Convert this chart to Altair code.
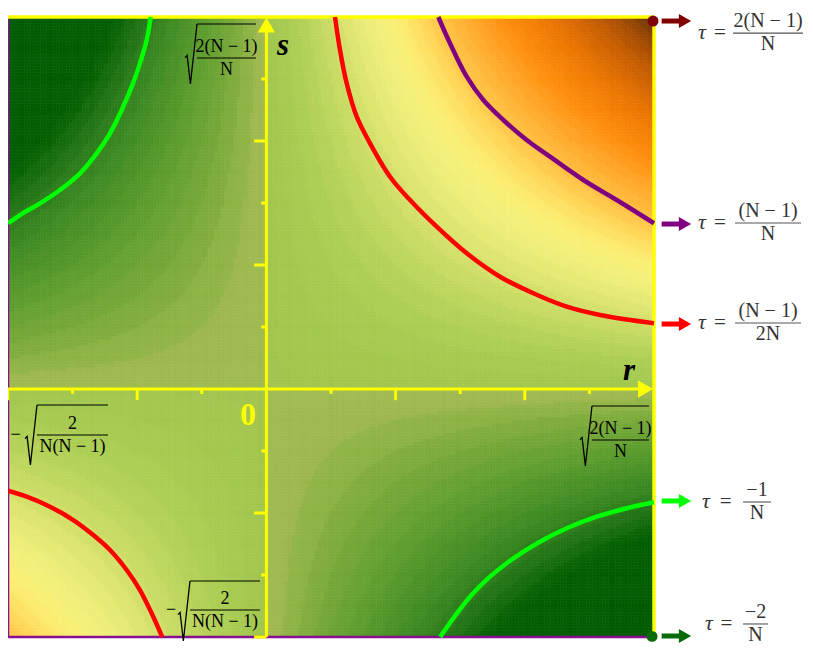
import altair as alt
import pandas as pd

# ---------------- field grid (r, s in axis-tick units) ----------------
R_MIN, R_MAX = -4, 6
S_MIN, S_MAX = -4, 6
STEP = 0.05
N_CELLS = 200          # (R_MAX - R_MIN) / STEP
BAND = 1.0             # width of one contour band (tau units)
BAND_MIX = 0.6         # how strongly the bands show

# colour stops of the contour map (tau in tick units: r*s)
TAU_STOPS = [-24, -14, -12, -10.5, -9, -7, -5, -3, -1.5, -0.5,
             0.5, 2, 4, 6, 8, 10, 12, 14, 16, 19, 22, 26, 30, 33, 36]
TAU_COLORS = ["#005a00", "#005e00", "#1c7012", "#2e7d1c", "#3c8a22", "#4e9428",
              "#62a030", "#78a83a", "#8eb444", "#a0b850",
              "#a2c84e", "#a8cc52", "#b8d45a", "#cedd66", "#e2e873", "#f2f07c",
              "#fbf074", "#ffdc5e", "#ffc446", "#ffa82a", "#ff8e0c", "#ec7600",
              "#c85e00", "#a04a00", "#5c2e00"]

# contour curves
PURPLE_R = [2.661, 2.842, 3.101, 3.358, 3.667, 4.029, 4.390, 4.906, 5.423, 6.0]
PURPLE_S = [6.0, 5.576, 5.037, 4.661, 4.339, 4.016, 3.747, 3.371, 3.048, 2.673]
RED_UP_R = [1.062, 1.139, 1.243, 1.398, 1.604, 1.913, 2.223, 2.636, 3.101, 3.616,
            4.132, 4.649, 5.164, 6.0]
RED_UP_S = [6.0, 5.468, 4.931, 4.392, 3.963, 3.424, 3.048, 2.618, 2.189, 1.811,
            1.544, 1.327, 1.194, 1.060]
RED_LO_R = [-4.0, -3.711, -3.350, -2.989, -2.680, -2.421, -2.163, -1.957, -1.776, -1.613]
RED_LO_S = [-1.640, -1.737, -1.898, -2.113, -2.355, -2.597, -2.919, -3.242, -3.618, -4.0]
GREEN_UP_R = [-4.0, -3.814, -3.505, -3.195, -2.885, -2.627, -2.421, -2.240, -2.085,
              -1.957, -1.853, -1.791]
GREEN_UP_S = [2.673, 2.806, 2.995, 3.210, 3.479, 3.801, 4.124, 4.5, 4.876, 5.253,
              5.629, 6.0]
GREEN_LO_R = [2.69, 2.893, 3.152, 3.461, 3.822, 4.235, 4.649, 5.113, 5.577, 6.0]
GREEN_LO_S = [-4.0, -3.698, -3.350, -3.027, -2.731, -2.463, -2.247, -2.060, -1.924, -1.827]
CURVE_IDS = ["purple", "red_up", "red_lo", "green_up", "green_lo"]
CURVE_COLORS = ["#800080", "#ff0000", "#ff0000", "#00ff00", "#00ff00"]

# axis ticks
TICKS_LONG = [-4, -2, 2, 4]
TICKS_SHORT = [-3, -1, 1, 3, 5]

# right-hand legend entries
TAU_NUM = ["2(N − 1)", "(N − 1)", "(N − 1)", "−1", "−2"]
TAU_DEN = ["N", "N", "2N", "N", "N"]
TAU_ARROW_COLORS = ["#800000", "#800080", "#ff0000", "#00ff00", "#0b6b0b"]
# annotation layout (data units)
ARROW_S = [5.935, 2.661, 1.048, -1.806, -3.984]
BAR_S = [5.74, 2.677, 1.065, -1.823, -3.79]
TAU_R = [6.743, 6.743, 6.743, 6.805, 6.851]
EQ_R = [7.022, 7.022, 7.022, 7.108, 7.122]
BAR_R1 = [7.223, 7.254, 7.254, 7.378, 7.378]
BAR_R2 = [8.307, 8.276, 8.276, 7.811, 7.765]

# radical tick labels
RAD_NUM = ["2(N − 1)", "2(N − 1)", "2", "2"]
RAD_DEN = ["N", "N", "N(N − 1)", "N(N − 1)"]
RAD_SIGN_R = [-1.167, 4.947, -3.644, -1.276]
RAD_SIGN_S = [5.403, -0.758, -0.742, -3.581]
RAD_OVER_S = [5.887, -0.274, -0.258, -3.097]
RAD_BAR_S = [5.339, -0.823, -0.742, -3.565]
RAD_R1 = [-1.074, 5.040, -3.551, -1.183]
RAD_R2 = [-0.161, 5.923, -2.452, -0.099]
MINUS_R = [-3.884, -1.477]
MINUS_S = [-0.742, -3.565]

XSC = alt.Scale(domain=[-4.0, 8.3375], nice=False, zero=False)
YSC = alt.Scale(domain=[-4.1774, 6.1452], nice=False, zero=False)


def X(f):
    return alt.X(f"{f}:Q", scale=XSC, axis=None)


def Y(f):
    return alt.Y(f"{f}:Q", scale=YSC, axis=None)


def segs(r, s, r2, s2, color, width):
    df = pd.DataFrame({"r": r, "s": s, "r2": r2, "s2": s2})
    return alt.Chart(df).mark_rule(color=color, strokeWidth=width).encode(
        x=X("r"), y=Y("s"), x2="r2:Q", y2="s2:Q")


def texts(r, s, t, **kw):
    df = pd.DataFrame({"r": r, "s": s, "t": t})
    return alt.Chart(df).mark_text(**kw).encode(x=X("r"), y=Y("s"), text="t:N")


YELLOW = "#ffff00"
SERIF = "Liberation Serif"

color_scale = alt.Scale(domain=TAU_STOPS, range=TAU_COLORS, interpolate="rgb")

heat = (
    alt.Chart(alt.sequence(start=0, stop=N_CELLS, as_="i"))
    .transform_calculate(j=f"sequence(0, {N_CELLS})")
    .transform_flatten(["j"])
    .transform_calculate(
        r=f"{R_MIN} + datum.i * {STEP}",
        s=f"{S_MIN} + datum.j * {STEP}",
    )
    .transform_calculate(
        r2=f"datum.r + {STEP}",
        s2=f"datum.s + {STEP}",
        tau=f"(datum.r + {STEP / 2}) * (datum.s + {STEP / 2})",
    )
    .transform_calculate(
        shade=f"{BAND_MIX} * (floor(datum.tau / {BAND}) * {BAND} + {BAND / 2})"
              f" + {1 - BAND_MIX} * datum.tau"
    )
    .mark_rect(strokeWidth=0.6)
    .encode(
        x=X("r"), x2="r2:Q", y=Y("s"), y2="s2:Q",
        color=alt.Color("shade:Q", scale=color_scale, legend=None),
        stroke=alt.Stroke("shade:Q", scale=color_scale, legend=None),
    )
)

frame_purple = segs([-4, -4], [-4, -4], [-4, 6], [6, -4], "#86108f", 2.5)
frame_yellow = segs([-4, 6], [6, -4], [6, 6], [6, 6], YELLOW, 3.5)
axes = segs([-4, 0], [0, -4], [5.87, 0], [0, 5.87], YELLOW, 3)

xt_long = segs(TICKS_LONG, [0] * 4, TICKS_LONG, [-0.18] * 4, YELLOW, 3)
xt_short = segs(TICKS_SHORT, [0] * 5, TICKS_SHORT, [-0.08] * 5, YELLOW, 3)
yt_long = segs([0] * 4, TICKS_LONG, [-0.19] * 4, TICKS_LONG, YELLOW, 3)
yt_short = segs([0] * 5, TICKS_SHORT, [-0.08] * 5, TICKS_SHORT, YELLOW, 3)

rows = []
for cid, rr, ss in zip(CURVE_IDS,
                       [PURPLE_R, RED_UP_R, RED_LO_R, GREEN_UP_R, GREEN_LO_R],
                       [PURPLE_S, RED_UP_S, RED_LO_S, GREEN_UP_S, GREEN_LO_S]):
    for i, (a, b) in enumerate(zip(rr, ss)):
        rows.append({"curve": cid, "i": i, "r": a, "s": b})
curve_df = pd.DataFrame(rows)
curves = alt.Chart(curve_df).mark_line(strokeWidth=4.5, interpolate="catmull-rom").encode(
    x=X("r"), y=Y("s"), detail="curve:N", order="i:Q",
    color=alt.Color("curve:N", scale=alt.Scale(domain=CURVE_IDS, range=CURVE_COLORS), legend=None),
)

head_up = alt.Chart(pd.DataFrame({"r": [0], "s": [5.871]})).mark_point(
    shape="triangle-up", filled=True, color=YELLOW, size=300, opacity=1
).encode(x=X("r"), y=Y("s"))
head_right = alt.Chart(pd.DataFrame({"r": [5.869], "s": [0]})).mark_point(
    shape="triangle-right", filled=True, color=YELLOW, size=300, opacity=1
).encode(x=X("r"), y=Y("s"))

lab_s = texts([0.257], [5.387], ["s"], font=SERIF, fontSize=31, fontWeight="bold",
              fontStyle="italic", color="black", align="center", baseline="alphabetic")
lab_r = texts([5.613], [0.145], ["r"], font=SERIF, fontSize=31, fontWeight="bold",
              fontStyle="italic", color="black", align="center", baseline="alphabetic")
lab_0 = texts([-0.285], [-0.581], ["0"], font=SERIF, fontSize=32, fontWeight="bold",
              color=YELLOW, align="center", baseline="alphabetic")

# radical labels
RADICAL = "M-0.2,0.12L-0.13,0.05L-0.02,1L0.2,-1"
rad_sign = alt.Chart(pd.DataFrame({"r": RAD_SIGN_R, "s": RAD_SIGN_S})).mark_point(
    shape=RADICAL, filled=False, color="black", strokeWidth=1.3, size=3600, opacity=1
).encode(x=X("r"), y=Y("s"))
rad_over = segs(RAD_R1, RAD_OVER_S, RAD_R2, RAD_OVER_S, "black", 1.1)
rad_bar = segs(RAD_R1, RAD_BAR_S, RAD_R2, RAD_BAR_S, "black", 1.1)
rad_mid = [(a + b) / 2 for a, b in zip(RAD_R1, RAD_R2)]
rad_num = texts(rad_mid, RAD_BAR_S, RAD_NUM, font=SERIF, fontSize=18, color="black",
                align="center", baseline="alphabetic", dy=-6)
rad_den = texts(rad_mid, RAD_BAR_S, RAD_DEN, font=SERIF, fontSize=18, color="black",
                align="center", baseline="alphabetic", dy=17)
rad_minus = texts(MINUS_R, MINUS_S, ["−", "−"], font=SERIF, fontSize=18, color="black",
                  align="center", baseline="middle")

# right-hand arrows and labels
arr_df = pd.DataFrame({"r": [6.118] * 5, "r2": [6.40] * 5, "s": ARROW_S, "c": TAU_ARROW_COLORS})
arr_shaft = alt.Chart(arr_df).mark_rule(strokeWidth=5).encode(
    x=X("r"), x2="r2:Q", y=Y("s"), color=alt.Color("c:N", scale=None))
arr_head = alt.Chart(pd.DataFrame({"r": [6.48] * 5, "s": ARROW_S, "c": TAU_ARROW_COLORS})).mark_point(
    shape="triangle-right", filled=True, size=200, opacity=1
).encode(x=X("r"), y=Y("s"), color=alt.Color("c:N", scale=None))
dots = alt.Chart(pd.DataFrame({"r": [5.985, 5.97], "s": [5.935, -3.99],
                               "c": [TAU_ARROW_COLORS[0], TAU_ARROW_COLORS[-1]]})).mark_circle(
    size=120, opacity=1
).encode(x=X("r"), y=Y("s"), color=alt.Color("c:N", scale=None))

TXT = "#333333"
tau_lab = texts(TAU_R, BAR_S, ["τ"] * 5, font=SERIF, fontSize=22, fontStyle="italic",
                color=TXT, align="center", baseline="alphabetic", dy=6)
eq_lab = texts(EQ_R, BAR_S, ["="] * 5, font=SERIF, fontSize=21, color=TXT,
               align="center", baseline="alphabetic", dy=6)
tau_bar = segs(BAR_R1, BAR_S, BAR_R2, BAR_S, "#555555", 1.1)
tau_mid = [(a + b) / 2 for a, b in zip(BAR_R1, BAR_R2)]
tau_num = texts(tau_mid, BAR_S, TAU_NUM, font=SERIF, fontSize=20, color=TXT,
                align="center", baseline="alphabetic", dy=-6)
tau_den = texts(tau_mid, BAR_S, TAU_DEN, font=SERIF, fontSize=20, color=TXT,
                align="center", baseline="alphabetic", dy=17)

chart = alt.layer(
    heat, frame_purple, frame_yellow, axes, xt_long, xt_short, yt_long, yt_short,
    curves, head_up, head_right, lab_s, lab_r, lab_0,
    rad_sign, rad_over, rad_bar, rad_num, rad_den, rad_minus,
    arr_shaft, arr_head, dots, tau_lab, eq_lab, tau_bar, tau_num, tau_den,
).properties(
    width=797, height=640, padding=0, background="white",
    autosize=alt.AutoSizeParams(type="none"),
).configure_view(strokeWidth=0)

chart.save("out.html", embed_options={"renderer": "svg", "actions": False})
